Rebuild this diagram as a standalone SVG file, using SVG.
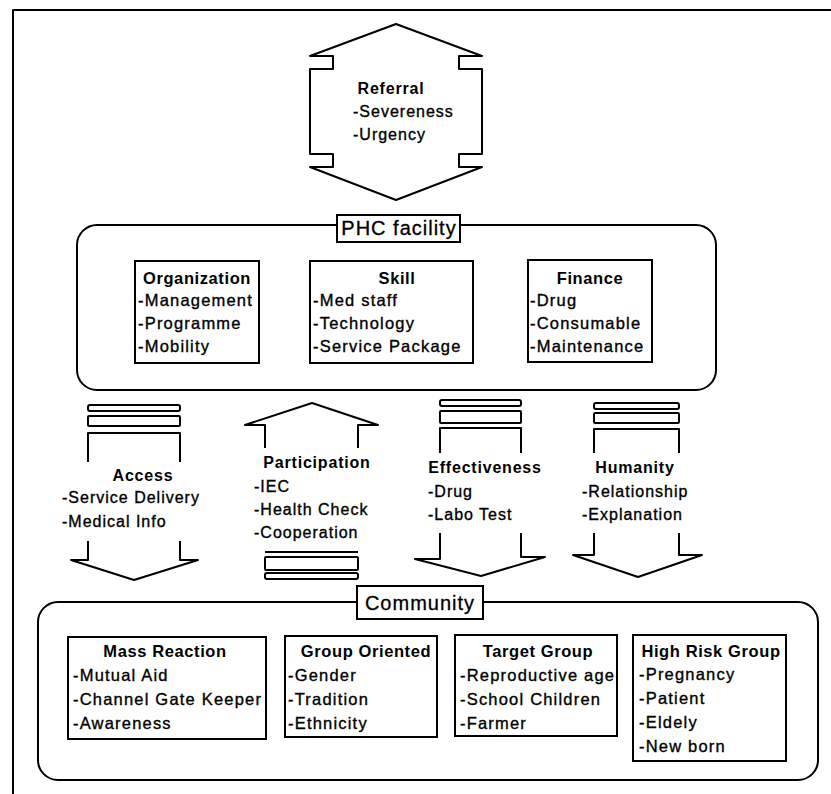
<svg xmlns="http://www.w3.org/2000/svg" width="831" height="794" viewBox="0 0 831 794">
<style>
.ln{fill:none;stroke:#000;stroke-width:2;stroke-linejoin:round}
.bx{fill:#fff;stroke:#000;stroke-width:2}
.t{font-family:"Liberation Sans",Arial,sans-serif;font-size:16.5px;letter-spacing:1.2px;fill:#000;stroke:#000;stroke-width:0.35px}
.b{font-family:"Liberation Sans",Arial,sans-serif;font-size:16.5px;font-weight:bold;letter-spacing:0.6px;fill:#000;text-anchor:middle}
.at{font-family:"Liberation Sans",Arial,sans-serif;font-size:16px;letter-spacing:1px;fill:#000;stroke:#000;stroke-width:0.35px}
.ab{font-family:"Liberation Sans",Arial,sans-serif;font-size:16px;font-weight:bold;letter-spacing:0.8px;fill:#000;text-anchor:middle}
.lbl{font-family:"Liberation Sans",Arial,sans-serif;font-size:20px;letter-spacing:1px;fill:#000;text-anchor:middle;stroke:#000;stroke-width:0.3px}
</style>
<rect width="831" height="794" fill="#fff"/>
<path class="ln" d="M13,794 L13,10 L831,10"/>

<g id="referral">
<path class="ln" d="M396,24 L310,56 L333,56 L333,69 L310,69 L310,154 L333,154 L333,167 L310,167 L396,200 L482,167 L459,167 L459,154 L482,154 L482,69 L459,69 L459,56 L482,56 Z"/>
<text class="ab" x="391" y="94">Referral</text>
<text class="at" x="353" y="117">-Severeness</text>
<text class="at" x="353" y="140">-Urgency</text>
</g>

<g id="phc">
<rect class="ln" x="77" y="225" width="639" height="165" rx="20"/>
<rect class="bx" x="337" y="215" width="123" height="27"/>
<text class="lbl" x="399" y="235">PHC facility</text>
</g>

<g id="organization">
<rect class="bx" x="135" y="261" width="124" height="102"/>
<text class="b" x="197" y="284">Organization</text>
<text class="t" x="138" y="306">-Management</text>
<text class="t" x="138" y="329">-Programme</text>
<text class="t" x="138" y="352">-Mobility</text>
</g>

<g id="skill">
<rect class="bx" x="310" y="261" width="163" height="102"/>
<text class="b" x="397" y="284">Skill</text>
<text class="t" x="313" y="306">-Med staff</text>
<text class="t" x="313" y="329">-Technology</text>
<text class="t" x="313" y="352">-Service Package</text>
</g>

<g id="finance">
<rect class="bx" x="528" y="260" width="124" height="102"/>
<text class="b" x="590" y="284">Finance</text>
<text class="t" x="530" y="306">-Drug</text>
<text class="t" x="530" y="329">-Consumable</text>
<text class="t" x="530" y="352">-Maintenance</text>
</g>

<g id="connectors">
<g id="access-arrow">
<rect class="ln" x="88" y="405" width="92" height="6" rx="2"/>
<rect class="ln" x="88" y="416" width="92" height="10" rx="1"/>
<path class="ln" d="M88,462 L88,433 L180,433 L180,462"/>
<path class="ln" d="M88,541 L88,560 L71,560 L134,580 L198,560 L180,560 L180,541"/>
</g>
<g id="participation-arrow">
<path class="ln" d="M265,448 L265,425 L245,425 L312,403 L378,425 L358,425 L358,448"/>
<path class="ln" d="M265,552 L358,552"/>
<rect class="ln" x="265" y="557" width="93" height="13" rx="1"/>
<rect class="ln" x="265" y="573" width="93" height="6" rx="2"/>
</g>
<g id="effectiveness-arrow">
<rect class="ln" x="440" y="400" width="81" height="6" rx="2"/>
<rect class="ln" x="440" y="411" width="81" height="12" rx="1"/>
<path class="ln" d="M440,453 L440,428 L521,428 L521,453"/>
<path class="ln" d="M440,533 L440,559 L415,559 L481,576 L545,557 L521,557 L521,533"/>
</g>
<g id="humanity-arrow">
<rect class="ln" x="594" y="403" width="85" height="6" rx="2"/>
<rect class="ln" x="594" y="413" width="85" height="10" rx="1"/>
<path class="ln" d="M594,453 L594,429 L679,429 L679,453"/>
<path class="ln" d="M594,533 L594,555 L573,555 L638,577 L702,555 L679,555 L679,533"/>
</g>
</g>

<g id="access">
<text class="ab" x="143" y="481">Access</text>
<text class="at" x="62" y="503">-Service Delivery</text>
<text class="at" x="62" y="527">-Medical Info</text>
</g>
<g id="participation">
<text class="ab" x="317" y="468">Participation</text>
<text class="at" x="254" y="492">-IEC</text>
<text class="at" x="254" y="515">-Health Check</text>
<text class="at" x="254" y="538">-Cooperation</text>
</g>
<g id="effectiveness">
<text class="ab" x="485" y="473">Effectiveness</text>
<text class="at" x="428" y="497">-Drug</text>
<text class="at" x="428" y="520">-Labo Test</text>
</g>
<g id="humanity">
<text class="ab" x="635" y="473">Humanity</text>
<text class="at" x="582" y="497">-Relationship</text>
<text class="at" x="582" y="520">-Explanation</text>
</g>

<g id="community">
<rect class="ln" x="38" y="602" width="780" height="178" rx="20"/>
<rect class="bx" x="357" y="586" width="126" height="33"/>
<text class="lbl" x="420" y="610">Community</text>
</g>

<g id="mass-reaction">
<rect class="bx" x="68" y="637" width="198" height="102"/>
<text class="b" x="165" y="657">Mass Reaction</text>
<text class="t" x="73" y="681">-Mutual Aid</text>
<text class="t" x="73" y="705">-Channel Gate Keeper</text>
<text class="t" x="73" y="729">-Awareness</text>
</g>
<g id="group-oriented">
<rect class="bx" x="285" y="636" width="152" height="101"/>
<text class="b" x="366" y="657">Group Oriented</text>
<text class="t" x="288" y="681">-Gender</text>
<text class="t" x="288" y="705">-Tradition</text>
<text class="t" x="288" y="729">-Ethnicity</text>
</g>
<g id="target-group">
<rect class="bx" x="455" y="635" width="162" height="101"/>
<text class="b" x="538" y="657">Target Group</text>
<text class="t" x="460" y="681">-Reproductive age</text>
<text class="t" x="460" y="705">-School Children</text>
<text class="t" x="460" y="729">-Farmer</text>
</g>
<g id="high-risk-group">
<rect class="bx" x="633" y="635" width="153" height="126"/>
<text class="b" x="711" y="657">High Risk Group</text>
<text class="t" x="639" y="680">-Pregnancy</text>
<text class="t" x="639" y="704">-Patient</text>
<text class="t" x="639" y="728">-Eldely</text>
<text class="t" x="639" y="752">-New born</text>
</g>
</svg>
